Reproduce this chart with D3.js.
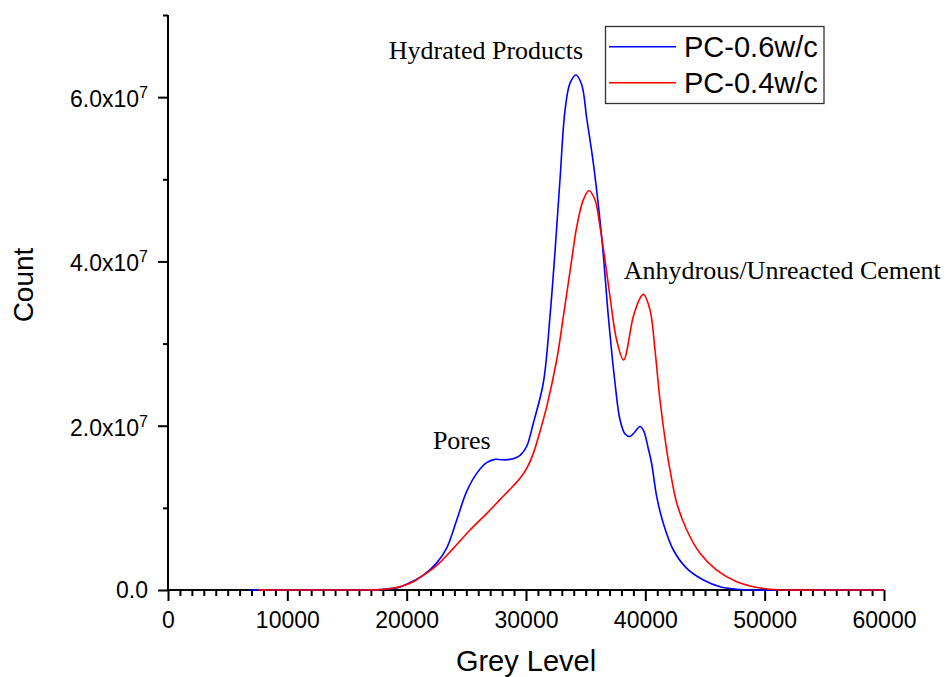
<!DOCTYPE html>
<html>
<head>
<meta charset="utf-8">
<script src="https://cdn.jsdelivr.net/npm/d3@7"></script>
<style>
  html, body { margin: 0; padding: 0; background: #fff; }
  svg { display: block; }
</style>
</head>
<body>
<svg id="chart" width="950" height="677"></svg>
<script>
// ---- data ----
const seriesNames = ["PC-0.6w/c", "PC-0.4w/c"];
const seriesColors = ["#0000ff", "#ff0000"];

const greyLevel06 = [6800, 12000, 15000, 17800, 19400, 20560, 21400, 22520, 23350, 24190, 25030, 25870, 26700, 27400, 28000, 28660, 29500, 30060, 30610, 31450, 32010, 32430, 32850, 33270, 33690, 34190, 34670, 35090, 35640, 36200, 36480, 36900, 37460, 37880, 38300, 38720, 39100, 39550, 39850, 40250, 40530, 40950, 41510, 42350, 43470, 44870, 46260, 47660, 49000, 52000, 60000];
const count06 = [0, 0, 0, 5e4, 3.5e5, 1.1e6, 1.8e6, 3.3e6, 5.1e6, 8.5e6, 1.2e7, 1.42e7, 1.55e7, 1.59e7, 1.585e7, 1.59e7, 1.64e7, 1.75e7, 2.03e7, 2.52e7, 3.33e7, 4.12e7, 5.0e7, 5.84e7, 6.17e7, 6.27e7, 6.15e7, 5.74e7, 5.2e7, 4.5e7, 4.08e7, 3.33e7, 2.52e7, 2.07e7, 1.9e7, 1.87e7, 1.92e7, 1.99e7, 1.94e7, 1.72e7, 1.54e7, 1.14e7, 8.1e6, 4.87e6, 2.64e6, 1.22e6, 4e5, 1e5, 0, 0, 0];

const greyLevel04 = [7500, 12000, 15000, 17800, 19440, 20560, 21400, 22520, 23910, 25310, 26700, 27820, 28940, 29500, 30060, 30610, 31170, 31730, 32570, 33130, 33830, 34250, 34800, 35280, 35780, 36200, 36620, 37040, 37600, 38180, 38990, 39550, 39830, 40390, 40810, 41230, 41790, 42070, 42630, 43470, 44580, 45980, 47660, 49050, 50450, 52000, 55000, 60000];
const count04 = [0, 0, 0, 5e4, 4e5, 1.0e6, 1.8e6, 3.0e6, 5.07e6, 7.3e6, 9.3e6, 1.1e7, 1.27e7, 1.36e7, 1.48e7, 1.66e7, 1.93e7, 2.23e7, 2.8e7, 3.33e7, 4.02e7, 4.42e7, 4.75e7, 4.86e7, 4.75e7, 4.42e7, 4.02e7, 3.57e7, 3.04e7, 2.80e7, 3.33e7, 3.55e7, 3.60e7, 3.41e7, 2.92e7, 2.31e7, 1.70e7, 1.46e7, 1.06e7, 7.3e6, 4.47e6, 2.43e6, 1.0e6, 4e5, 1e5, 0, 0, 0];

const xTickValues = [0, 10000, 20000, 30000, 40000, 50000, 60000];
const yTickMantissa = ["0.0", "2.0", "4.0", "6.0"];
const yTickValues = [0, 2e7, 4e7, 6e7];

const annotations = [
  { text: "Hydrated Products", gx: 18500, gy: 6.46e7 },
  { text: "Pores", gx: 22200, gy: 1.72e7 },
  { text: "Anhydrous/Unreacted Cement", gx: 38200, gy: 3.79e7 }
];

// ---- drawing ----
const svg = d3.select("#chart");
const x = d3.scaleLinear().domain([0, 60000]).range([168, 884]);
const y = d3.scaleLinear().domain([0, 7e7]).range([590, 15]);

const axisStroke = 2;

// x axis
const xAxisMinor = d3.axisBottom(x)
  .tickValues(d3.range(0, 60001, 1000).filter(v => v % 10000 !== 0))
  .tickSize(6).tickFormat("");
const xAxisMajor = d3.axisBottom(x)
  .tickValues(xTickValues).tickSize(11).tickPadding(5)
  .tickFormat(d3.format("d"));

const gxMinor = svg.append("g").attr("transform", "translate(0,590)").call(xAxisMinor);
const gxMajor = svg.append("g").attr("transform", "translate(0,590)").call(xAxisMajor);
[gxMinor, gxMajor].forEach(g => {
  g.select(".domain").attr("stroke", "#000").attr("stroke-width", axisStroke);
  g.selectAll(".tick line").attr("stroke", "#000").attr("stroke-width", axisStroke);
});
gxMinor.select(".domain").remove();
gxMajor.select(".domain").attr("d", `M${x(0)},0H${x(60000)}`);
gxMajor.selectAll(".tick text")
  .attr("font-family", "Arial, 'Liberation Sans', sans-serif")
  .attr("font-size", 23).attr("fill", "#000")
  .attr("y", null).attr("dy", null)
  .attr("transform", "translate(0,38)");

// y axis
const yAxisMinor = d3.axisLeft(y).tickValues([1e7, 3e7, 5e7, 7e7]).tickSize(5).tickFormat("");
const yAxisMajor = d3.axisLeft(y).tickValues(yTickValues).tickSize(10).tickFormat("");
const gyMinor = svg.append("g").attr("transform", "translate(168,0)").call(yAxisMinor);
const gyMajor = svg.append("g").attr("transform", "translate(168,0)").call(yAxisMajor);
[gyMinor, gyMajor].forEach(g => {
  g.select(".domain").attr("stroke", "#000").attr("stroke-width", axisStroke);
  g.selectAll(".tick line").attr("stroke", "#000").attr("stroke-width", axisStroke);
});
gyMinor.select(".domain").remove();
gyMajor.select(".domain").attr("d", `M0,${y(0)}V${y(7e7)}`);

// y tick labels with superscript
const yLab = svg.append("g")
  .attr("font-family", "Arial, 'Liberation Sans', sans-serif")
  .attr("fill", "#000");
yTickValues.forEach((v, i) => {
  if (v === 0) {
    yLab.append("text").attr("x", 148).attr("y", y(v) + 8)
      .attr("text-anchor", "end").attr("font-size", 23).text(yTickMantissa[i]);
  } else {
    const t = yLab.append("text").attr("x", 148).attr("y", y(v) + 10)
      .attr("text-anchor", "end").attr("font-size", 23);
    t.append("tspan").text(yTickMantissa[i] + "x10");
    t.append("tspan").attr("font-size", 16).attr("dy", -9).text("7");
  }
});

// axis titles
svg.append("text")
  .attr("x", (x(0) + x(60000)) / 2).attr("y", 671)
  .attr("text-anchor", "middle")
  .attr("font-family", "Arial, 'Liberation Sans', sans-serif")
  .attr("font-size", 29).attr("fill", "#000")
  .text("Grey Level");
svg.append("text")
  .attr("transform", "translate(33,285) rotate(-90)")
  .attr("text-anchor", "middle")
  .attr("font-family", "Arial, 'Liberation Sans', sans-serif")
  .attr("font-size", 28).attr("fill", "#000")
  .text("Count");

// lines
const line = d3.line().x(d => x(d[0])).y(d => y(d[1])).curve(d3.curveCatmullRom.alpha(0.5));
const series = [
  d3.zip(greyLevel06, count06),
  d3.zip(greyLevel04, count04)
];
series.forEach((pts, i) => {
  svg.append("path")
    .datum(pts)
    .attr("d", line)
    .attr("fill", "none")
    .attr("stroke", seriesColors[i])
    .attr("stroke-width", 1.6)
    .attr("stroke-linejoin", "round");
});

// annotations
annotations.forEach(a => {
  svg.append("text")
    .attr("x", x(a.gx)).attr("y", y(a.gy))
    .attr("font-family", "'Liberation Serif', 'Times New Roman', serif")
    .attr("font-size", 26).attr("fill", "#000")
    .text(a.text);
});

// legend
const leg = svg.append("g");
leg.append("rect")
  .attr("x", 605.5).attr("y", 26.5).attr("width", 218.5).attr("height", 77)
  .attr("fill", "#fff").attr("stroke", "#333").attr("stroke-width", 1.3);
seriesNames.forEach((name, i) => {
  const cy = 46.7 + i * 36;
  leg.append("line")
    .attr("x1", 609).attr("x2", 676).attr("y1", cy).attr("y2", cy)
    .attr("stroke", seriesColors[i]).attr("stroke-width", 1.6);
  leg.append("text")
    .attr("x", 684).attr("y", cy + 10)
    .attr("font-family", "Arial, 'Liberation Sans', sans-serif")
    .attr("font-size", 29).attr("fill", "#000")
    .text(name);
});
</script>
</body>
</html>
